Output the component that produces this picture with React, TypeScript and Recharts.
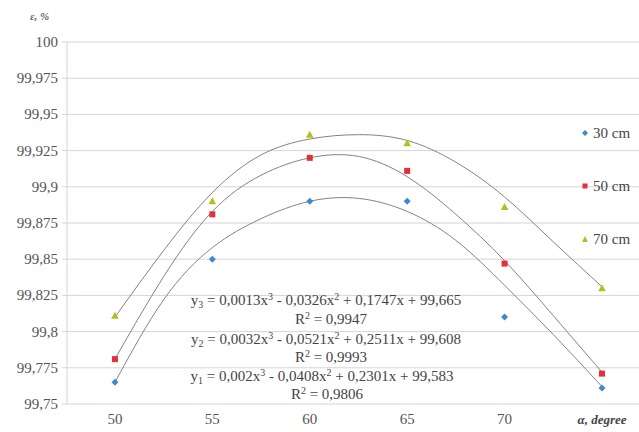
import {
  CartesianGrid,
  ComposedChart,
  Customized,
  Legend,
  Line,
  Scatter,
  XAxis,
  YAxis,
} from "recharts";

// measured points, alpha (degree) vs efficiency (%)
const angles = [50, 55, 60, 65, 70, 75];
const eff30 = [99.765, 99.85, 99.89, 99.89, 99.81, 99.761];
const eff50 = [99.781, 99.881, 99.92, 99.911, 99.847, 99.771];
const eff70 = [99.811, 99.89, 99.936, 99.93, 99.886, 99.83];

// trend curves
const trendX = [50, 52.5, 55, 57.5, 60, 62.5, 65, 67.5, 70, 72.5, 75];
const trend30 = [99.765, 99.822, 99.858, 99.878, 99.89, 99.892, 99.883, 99.863, 99.832, 99.798, 99.762];
const trend50 = [99.781, 99.838, 99.883, 99.908, 99.92, 99.921, 99.907, 99.881, 99.849, 99.811, 99.772];
const trend70 = [99.81, 99.856, 99.896, 99.922, 99.933, 99.936, 99.932, 99.917, 99.893, 99.862, 99.831];

const yTicks = [99.75, 99.775, 99.8, 99.825, 99.85, 99.875, 99.9, 99.925, 99.95, 99.975, 100];
const xTicks = [50, 55, 60, 65, 70, 75];
const seriesNames = ["30 cm", "50 cm", "70 cm"];
const seriesColors = ["#3c89d2", "#e0303a", "#b4bd22"];

const FONT = "'Liberation Serif', 'DejaVu Serif', serif";
const GRID = "#dcd2d2";
const TREND = "#8d807b";

const toPoints = (xs: number[], ys: number[]) => xs.map((x, i) => ({ x, y: ys[i] }));

type Seg = [string, "n" | "sub" | "sup"];
const eq3: Seg[] = [["y", "n"], ["3", "sub"], [" = 0,0013x", "n"], ["3", "sup"], [" - 0,0326x", "n"], ["2", "sup"], [" + 0,1747x + 99,665", "n"]];
const eq2: Seg[] = [["y", "n"], ["2", "sub"], [" = 0,0032x", "n"], ["3", "sup"], [" - 0,0521x", "n"], ["2", "sup"], [" + 0,2511x + 99,608", "n"]];
const eq1: Seg[] = [["y", "n"], ["1", "sub"], [" = 0,002x", "n"], ["3", "sup"], [" - 0,0408x", "n"], ["2", "sup"], [" + 0,2301x + 99,583", "n"]];
const r3: Seg[] = [["R", "n"], ["2", "sup"], [" = 0,9947", "n"]];
const r2: Seg[] = [["R", "n"], ["2", "sup"], [" = 0,9993", "n"]];
const r1: Seg[] = [["R", "n"], ["2", "sup"], [" = 0,9806", "n"]];

function EqText({ x, y, segs }: { x: number; y: number; segs: Seg[] }) {
  let level = 0;
  return (
    <text x={x} y={y} textAnchor="middle" fontFamily={FONT} fontSize={15} fill="#444">
      {segs.map(([t, k], i) => {
        const target = k === "sup" ? -5 : k === "sub" ? 3 : 0;
        const dy = target - level;
        level = target;
        return (
          <tspan key={i} dy={dy} fontSize={k === "n" ? 15 : 10}>
            {t}
          </tspan>
        );
      })}
    </text>
  );
}

function Annotations() {
  return (
    <g>
      <text x={30} y={20} fontFamily={FONT} fontSize={11} fontStyle="italic" fontWeight="bold" fill="#666">
        ε, %
      </text>
      <EqText x={326} y={305} segs={eq3} />
      <EqText x={331} y={324} segs={r3} />
      <EqText x={326} y={344} segs={eq2} />
      <EqText x={331} y={362} segs={r2} />
      <EqText x={322} y={381} segs={eq1} />
      <EqText x={327} y={399} segs={r1} />
    </g>
  );
}

function XTick({ x, y, payload }: any) {
  if (payload.value === 75)
    return (
      <text x={x} y={y + 12} textAnchor="middle" fontFamily={FONT} fontSize={13} fontStyle="italic" fontWeight="bold" fill="#444">
        α, degree
      </text>
    );
  return (
    <text x={x} y={y + 12} textAnchor="middle" fontFamily={FONT} fontSize={15} fill="#555">
      {payload.value}
    </text>
  );
}

function YTick({ x, y, payload }: any) {
  return (
    <text x={x} y={y} dy={5} textAnchor="end" fontFamily={FONT} fontSize={15} fill="#555">
      {String(payload.value).replace(".", ",")}
    </text>
  );
}

// small markers like the original workbook
function MarkShape({ cx, cy, kind, color }: any) {
  if (kind === 0) return <polygon points={`${cx},${cy - 3.5} ${cx + 3.5},${cy} ${cx},${cy + 3.5} ${cx - 3.5},${cy}`} fill={color} />;
  if (kind === 1) return <rect x={cx - 3} y={cy - 3} width={6} height={6} fill={color} />;
  return <polygon points={`${cx},${cy - 4} ${cx + 3.8},${cy + 3} ${cx - 3.8},${cy + 3}`} fill={color} />;
}

function Marker({ i }: { i: number }) {
  const c = seriesColors[i];
  return (
    <svg width={8} height={8} style={{ marginRight: 4 }}>
      {i === 0 && <polygon points="4,1 7,4 4,7 1,4" fill={c} />}
      {i === 1 && <rect x={1.5} y={1.5} width={5} height={5} fill={c} />}
      {i === 2 && <polygon points="4,1 7,7 1,7" fill={c} />}
    </svg>
  );
}

function renderLegend() {
  return (
    <div style={{ fontFamily: FONT, fontSize: 15, color: "#444" }}>
      {seriesNames.map((n, i) => (
        <div key={n} style={{ height: 53, lineHeight: "18px" }}>
          <div style={{ height: 18, display: "flex", alignItems: "center" }}>
            <Marker i={i} />
            <span>{n}</span>
          </div>
        </div>
      ))}
    </div>
  );
}

export default function App() {
  const measured = [eff30, eff50, eff70];
  const trends = [trend30, trend50, trend70];
  return (
    <div style={{ position: "absolute", left: 0, top: 0, background: "#fff" }}>
      <ComposedChart width={639} height={432} margin={{ top: 42, right: 0, bottom: 0, left: 0 }}>
        <CartesianGrid vertical={false} stroke={GRID} />
        <XAxis
          type="number"
          dataKey="x"
          domain={[47.54, 76.9]}
          ticks={xTicks}
          height={28}
          axisLine={false}
          tickLine={false}
          tick={<XTick />}
          allowDataOverflow
        />
        <YAxis
          type="number"
          dataKey="y"
          domain={[99.75, 100]}
          ticks={yTicks}
          width={67}
          axisLine={{ stroke: GRID }}
          tickLine={{ stroke: GRID }}
          tickSize={5}
          tickMargin={4}
          tick={<YTick />}
          allowDataOverflow
        />
        {trends.map((t, i) => (
          <Line
            key={"t" + i}
            data={toPoints(trendX, t)}
            dataKey="y"
            type="natural"
            stroke={TREND}
            strokeWidth={1}
            dot={false}
            activeDot={false}
            legendType="none"
            isAnimationActive={false}
          />
        ))}
        {measured.map((m, i) => (
          <Scatter
            key={"s" + i}
            name={seriesNames[i]}
            data={toPoints(angles, m)}
            dataKey="y"
            fill={seriesColors[i]}
            shape={(p: any) => <MarkShape {...p} kind={i} color={seriesColors[i]} />}
            isAnimationActive={false}
          />
        ))}
        <Legend
          layout="vertical"
          align="center"
          verticalAlign="middle"
          content={renderLegend}
          wrapperStyle={{ position: "absolute", top: 124, left: 581, width: 58 }}
        />
        <Customized component={Annotations} />
      </ComposedChart>
    </div>
  );
}
